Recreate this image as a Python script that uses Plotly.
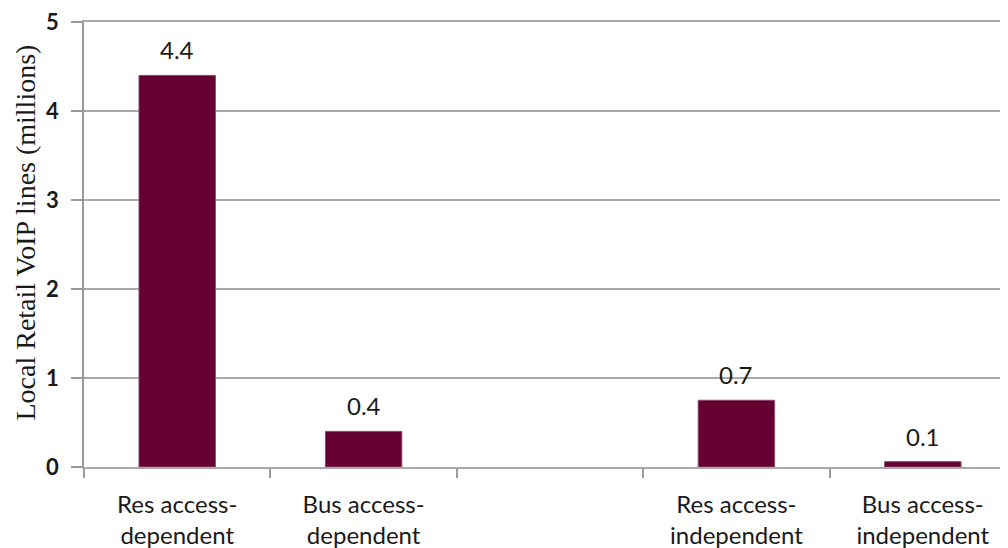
import plotly.graph_objects as go

categories = ["Res access-<br>dependent", "Bus access-<br>dependent", " ",
              "Res access-<br>independent", "Bus access-<br>independent"]
values = [4.4, 0.4, None, 0.75, 0.06]
value_labels = ["4.4", "0.4", "", "0.7", "0.1"]
y_ticks = [0, 1, 2, 3, 4, 5]
y_title = "Local Retail VoIP lines (millions)"

label_font = dict(family="Lato, Open Sans, sans-serif", size=24, color="#1a1a1a")

fig = go.Figure()
fig.add_trace(go.Bar(
    x=categories, y=values,
    marker=dict(color="#660033", line=dict(color="#8a4a6a", width=1)),
    width=0.41,
))
for c, v, t in zip(categories, values, value_labels):
    if v is None:
        continue
    fig.add_annotation(x=c, y=v, text=t, showarrow=False,
                       yanchor="bottom", yshift=9, font=label_font)

fig.add_annotation(xref="paper", yref="paper", x=0, y=0.5, xshift=-59, yshift=12,
                   xanchor="center", yanchor="middle",
                   text=y_title, textangle=-90, showarrow=False,
                   font=dict(family="Liberation Serif, Times New Roman, serif", size=28,
                             color="#1a1a1a"))

fig.update_layout(
    width=1008, height=548,
    margin=dict(l=76, r=0, t=14, b=89, autoexpand=False),
    plot_bgcolor="white", paper_bgcolor="white",
    showlegend=False,
    xaxis=dict(
        type="category", categoryorder="array", categoryarray=categories,
        range=[-0.5, 4.5],
        tickson="boundaries", ticks="outside", ticklen=9, tickcolor="#999999",
        tickwidth=1.5,
        showline=True, mirror=True, linecolor="#a8a8a8", linewidth=1.5,
        showgrid=False, ticklabelstandoff=15,
        tickfont=label_font,
    ),
    yaxis=dict(
        range=[0, 5], tickvals=y_ticks,
        ticks="outside", ticklen=11, tickcolor="#999999", tickwidth=1.5,
        showline=True, linecolor="#999999", linewidth=1.5,
        showgrid=True, gridcolor="#a8a8a8", gridwidth=1.5,
        zeroline=False, ticklabelstandoff=8, ticklabeloverflow="allow",
        tickfont=dict(family="Lato, Open Sans, sans-serif", size=22, color="#1a1a1a",
                      weight="bold"),
    ),
)

fig.write_html("out.html")
